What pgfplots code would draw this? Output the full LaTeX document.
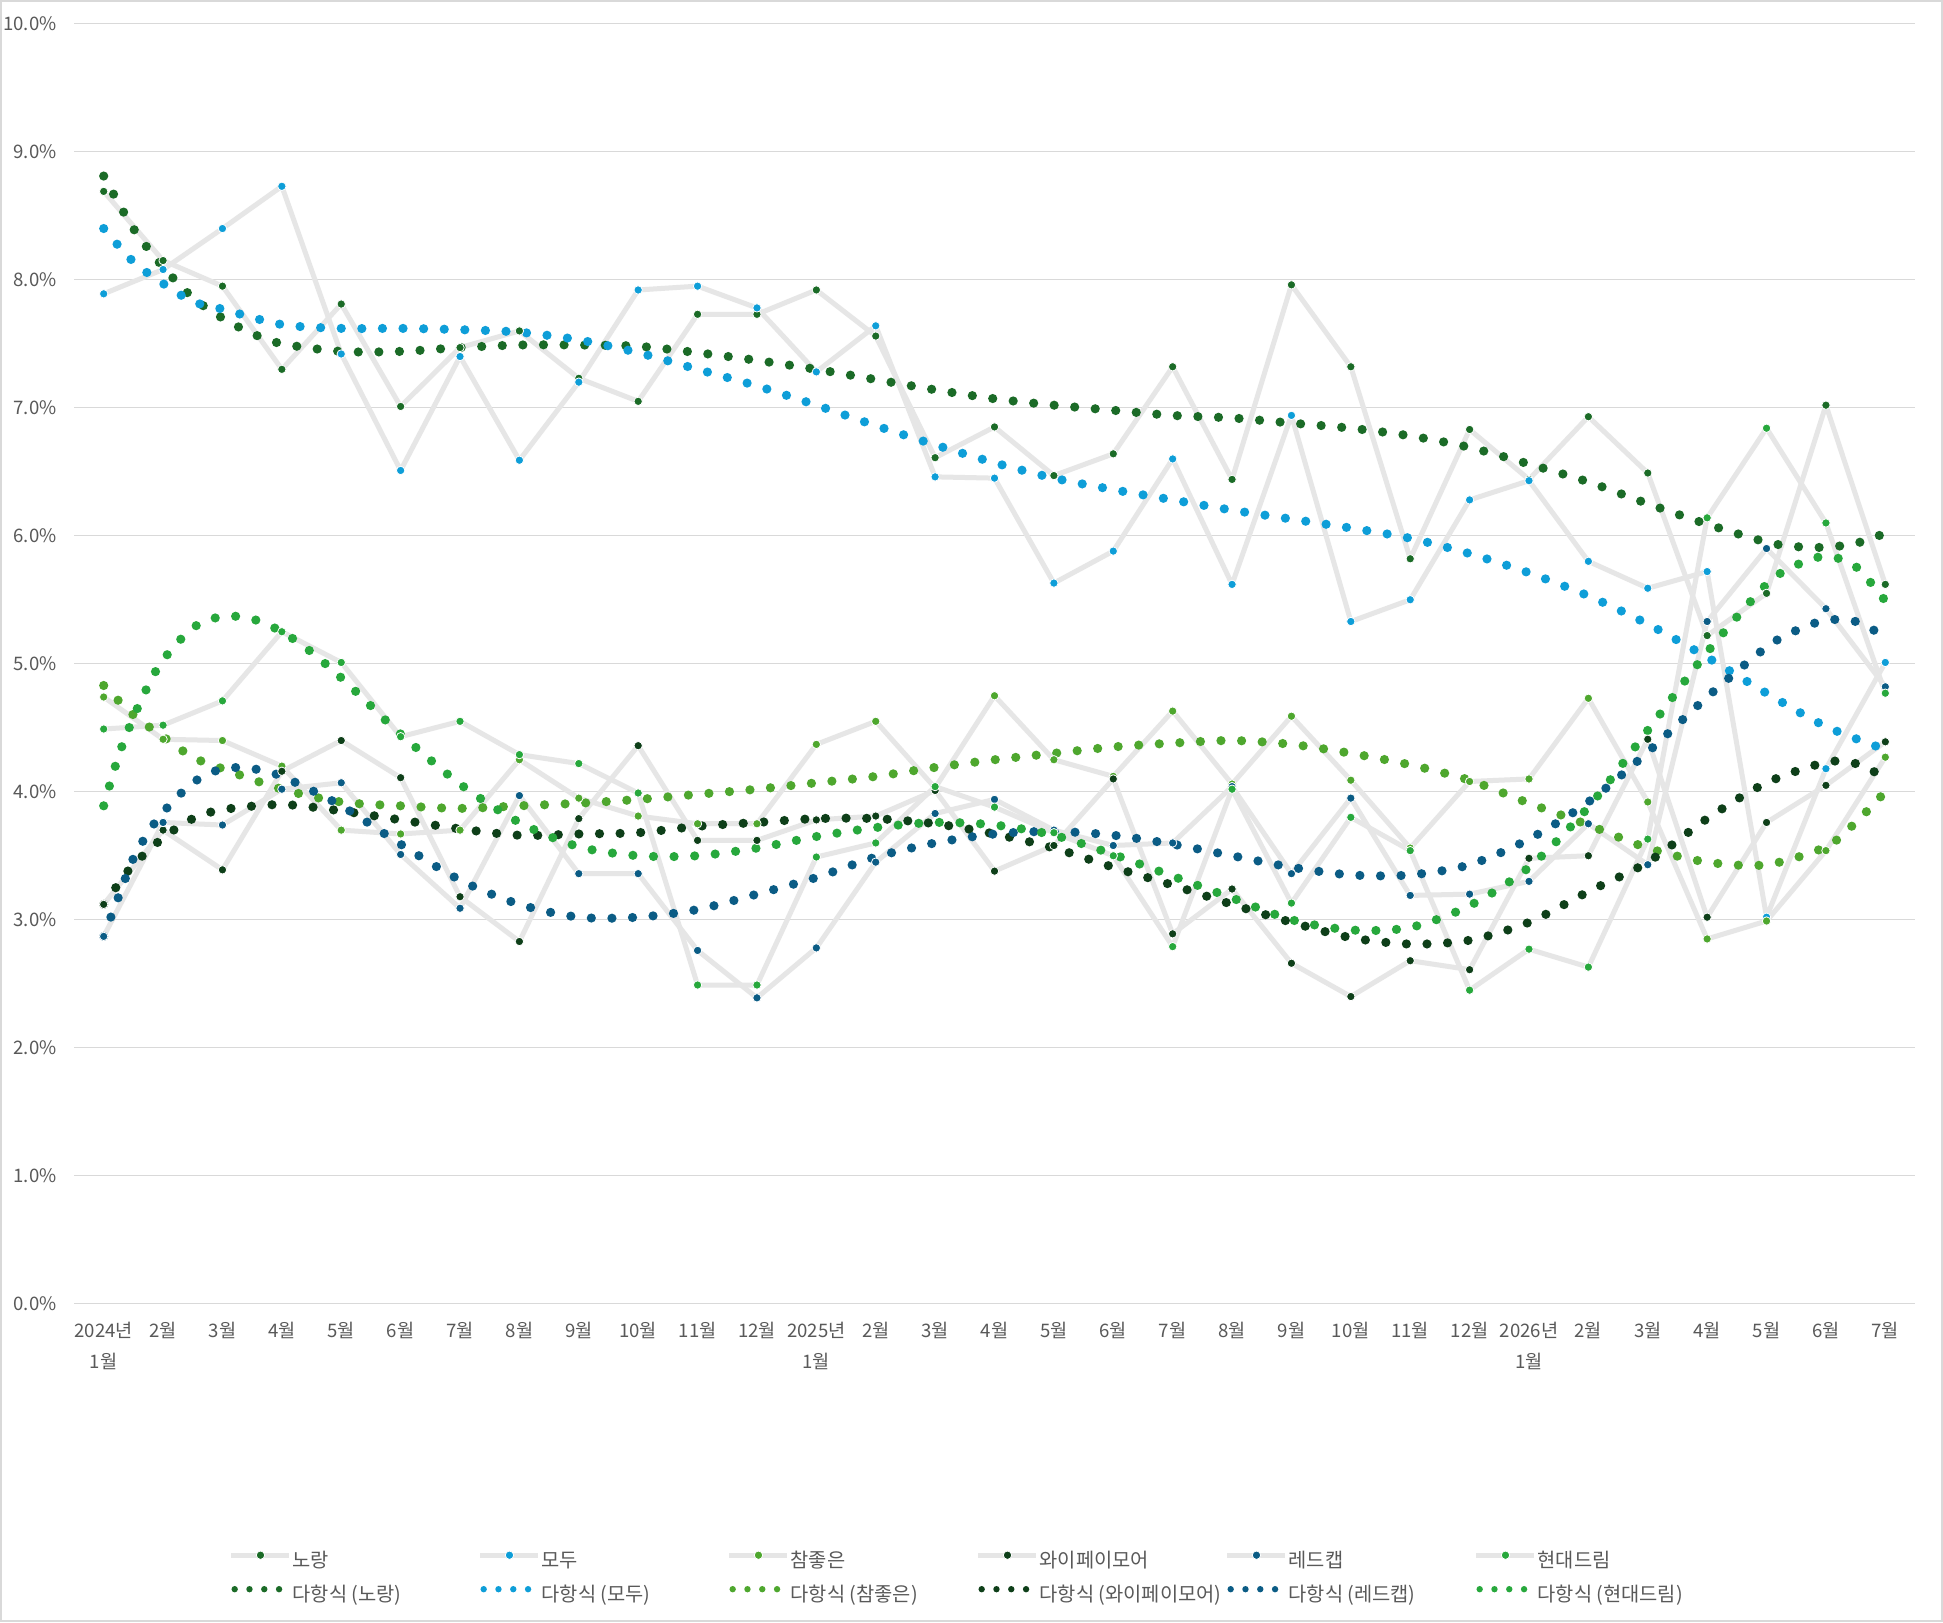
\documentclass[border=0pt]{standalone}
\usepackage{fontspec}
\setmainfont{Noto Sans CJK KR}
\usepackage{pgfplots}
\usepackage{pgfplotstable}
\pgfplotsset{compat=1.18}
\definecolor{cN}{HTML}{1B6B27}
\definecolor{cM}{HTML}{0E9ED8}
\definecolor{cC}{HTML}{4EA72E}
\definecolor{cW}{HTML}{0E3F19}
\definecolor{cR}{HTML}{0B5C85}
\definecolor{cH}{HTML}{27A83C}
\definecolor{lineGray}{HTML}{E6E6E6}
\definecolor{gridGray}{HTML}{D9D9D9}
\definecolor{txtGray}{HTML}{595959}
\definecolor{borderGray}{HTML}{D9D9D9}

\pgfplotstableread{
x N M C W R H
0 8.69 7.89 4.74 3.12 2.87 4.49
1 8.15 8.08 4.41 3.70 3.76 4.52
2 7.95 8.40 4.40 3.39 3.74 4.71
3 7.30 8.73 4.20 4.16 4.02 5.25
4 7.81 7.42 3.70 4.40 4.07 5.01
5 7.01 6.51 3.67 4.11 3.51 4.43
6 7.47 7.40 3.70 3.18 3.09 4.55
7 7.60 6.59 4.25 2.83 3.97 4.29
8 7.23 7.20 3.95 3.79 3.36 4.22
9 7.05 7.92 3.81 4.36 3.36 3.99
10 7.73 7.95 3.75 3.62 2.76 2.49
11 7.73 7.78 3.75 3.62 2.39 2.49
12 7.92 7.28 4.37 3.78 2.78 3.49
13 7.56 7.64 4.55 3.81 3.45 3.60
14 6.61 6.46 4.03 4.01 3.83 4.04
15 6.85 6.45 4.75 3.38 3.94 3.88
16 6.47 5.63 4.25 3.58 3.70 3.68
17 6.64 5.88 4.12 4.10 3.58 3.50
18 7.32 6.60 4.63 2.89 3.60 2.79
19 6.44 5.62 4.06 3.24 4.04 4.02
20 7.96 6.94 4.59 2.66 3.36 3.13
21 7.32 5.33 4.09 2.40 3.95 3.80
22 5.82 5.50 3.56 2.68 3.19 3.54
23 6.83 6.28 4.08 2.61 3.20 2.45
24 6.44 6.43 4.10 3.48 3.30 2.77
25 6.93 5.80 4.73 3.50 3.75 2.63
26 6.49 5.59 3.92 4.41 3.43 3.63
27 5.22 5.72 2.85 3.02 5.33 6.14
28 5.55 3.02 2.99 3.76 5.90 6.84
29 7.02 4.18 3.54 4.05 5.43 6.10
30 5.62 5.01 4.27 4.39 4.82 4.77
}\datatable

\pgfplotsset{
  datastyle/.style={lineGray, line width=2.5pt, line join=round, mark=*, mark size=2.1pt,
    mark options={solid, fill=#1, draw=white, line width=0.4pt},
    legend image code/.code={\draw[mark repeat=2, mark phase=2, ##1] plot coordinates {(0pt,3.5pt) (14.5pt,3.5pt) (29pt,3.5pt)};}},
  trendstyle/.style={#1, line width=4.6pt, line cap=round, dash pattern=on 0pt off 10.3pt, smooth, tension=0.5, no markers,
    legend image code/.code={\draw[##1, line width=3.2pt, line cap=round, dash pattern=on 0pt off 7.4pt] (1.6pt,3.5pt) -- (24pt,3.5pt);}},
}
\newcommand{\legtxt}[1]{\makebox[93pt][l]{\hspace{0.3pt}#1}}

\begin{document}
\begin{tikzpicture}
\useasboundingbox (0,0) rectangle (971.5pt,811pt);
\fill[white] (0,0) rectangle (971.5pt,811pt);
\draw[color=borderGray, line width=0.8pt] (0.4pt,0.4pt) rectangle (971.1pt,810.6pt);
\begin{axis}[
  at={(37pt,159.125pt)}, anchor=south west,
  scale only axis, width=920.5pt, height=640pt,
  xmin=-0.5, xmax=30.5, ymin=0, ymax=10,
  axis line style={draw=none},
  xtick={0,...,30},
  xticklabels={{2024년\\1월},2월,3월,4월,5월,6월,7월,8월,9월,10월,11월,12월,{2025년\\1월},2월,3월,4월,5월,6월,7월,8월,9월,10월,11월,12월,{2026년\\1월},2월,3월,4월,5월,6월,7월},
  ytick={0,...,10},
  yticklabels={0.0\%,1.0\%,2.0\%,3.0\%,4.0\%,5.0\%,6.0\%,7.0\%,8.0\%,9.0\%,10.0\%},
  tick style={draw=none},
  ymajorgrids, grid style={gridGray, line width=0.75pt},
  ticklabel style={font=\fontsize{9.3}{15.5}\selectfont, text=txtGray},
  xticklabel style={anchor=north, inner sep=0pt, yshift=-9pt, align=center},
  yticklabel style={anchor=east, inner sep=0pt, xshift=-8.5pt},
  legend columns=6,
  legend cell align=left,
  legend style={at={(0.08419,-0.19316)}, anchor=north west, draw=none, fill=none,
    inner sep=0pt, outer sep=0pt, font=\fontsize{9.9}{11}\selectfont, text=txtGray,
    /tikz/column sep=0pt, /tikz/row sep=7.4pt,
    nodes={inner sep=0pt, text height=7pt, text depth=2pt}},
]
\addplot[datastyle=cN] table[x=x, y=N]{\datatable};
\addlegendentry{\legtxt{노랑}}
\addplot[datastyle=cM] table[x=x, y=M]{\datatable};
\addlegendentry{\legtxt{모두}}
\addplot[datastyle=cC] table[x=x, y=C]{\datatable};
\addlegendentry{\legtxt{참좋은}}
\addplot[datastyle=cW] table[x=x, y=W]{\datatable};
\addlegendentry{\legtxt{와이페이모어}}
\addplot[datastyle=cR] table[x=x, y=R]{\datatable};
\addlegendentry{\legtxt{레드캡}}
\addplot[datastyle=cH] table[x=x, y=H]{\datatable};
\addlegendentry{\legtxt{현대드림}}

\addplot[trendstyle=cN] coordinates {(0,8.81) (0.5,8.40) (1,8.10) (1.5,7.86) (2,7.70) (2.5,7.58) (3,7.50) (4,7.44) (5,7.44) (6,7.47) (7,7.49) (8,7.49) (9,7.48) (10,7.43) (11,7.37) (12,7.30) (13,7.22) (14,7.14) (15,7.07) (16,7.02) (17,6.98) (18,6.94) (19,6.92) (20,6.88) (21,6.84) (22,6.78) (23,6.69) (24,6.56) (25,6.42) (26,6.25) (27,6.09) (28,5.95) (28.5,5.915) (29,5.91) (29.5,5.94) (30,6.02)};
\addlegendentry{\legtxt{다항식 (노랑)}}
\addplot[trendstyle=cM] coordinates {(0,8.40) (0.5,8.14) (1,7.97) (1.5,7.83) (2,7.77) (3,7.65) (4,7.62) (5,7.62) (6,7.61) (7,7.59) (8,7.53) (9,7.43) (10,7.30) (11,7.17) (12,7.02) (13,6.86) (14,6.71) (15,6.57) (16,6.45) (17,6.36) (18,6.28) (19,6.20) (20,6.13) (21,6.06) (22,5.98) (23,5.86) (24,5.71) (25,5.53) (26,5.31) (27,5.05) (28,4.77) (29,4.51) (30,4.33)};
\addlegendentry{\legtxt{다항식 (모두)}}
\addplot[trendstyle=cC] coordinates {(0,4.83) (0.5,4.60) (1,4.43) (1.5,4.27) (2,4.18) (3,4.02) (4,3.92) (5,3.89) (6,3.87) (7,3.89) (8,3.91) (9,3.94) (10,3.98) (11,4.02) (12,4.07) (13,4.12) (14,4.19) (15,4.25) (16,4.30) (17,4.35) (18,4.38) (19,4.40) (20,4.37) (21,4.30) (22,4.21) (23,4.09) (24,3.91) (25,3.74) (26,3.56) (27,3.45) (28,3.43) (29,3.57) (29.5,3.76) (30,4.00)};
\addlegendentry{\legtxt{다항식 (참좋은)}}
\addplot[trendstyle=cW] coordinates {(0,3.12) (0.25,3.28) (0.5,3.43) (1,3.64) (1.5,3.79) (2,3.86) (3,3.90) (4,3.85) (5,3.78) (6,3.71) (7,3.66) (8,3.67) (9,3.68) (10,3.73) (11,3.76) (12,3.79) (13,3.79) (14,3.75) (15,3.67) (16,3.56) (17,3.41) (18,3.27) (19,3.12) (20,2.98) (21,2.86) (22,2.81) (23,2.84) (24,2.98) (25,3.22) (26,3.45) (27,3.79) (28,4.07) (29,4.23) (29.5,4.22) (30,4.11)};
\addlegendentry{\legtxt{다항식 (와이페이모어)}}
\addplot[trendstyle=cR] coordinates {(0,2.87) (0.25,3.18) (0.5,3.48) (0.75,3.68) (1,3.84) (1.5,4.07) (2,4.18) (2.5,4.18) (3,4.12) (4,3.89) (5,3.59) (6,3.31) (7,3.12) (8,3.02) (9,3.02) (10,3.08) (11,3.20) (12,3.33) (13,3.49) (14,3.60) (15,3.67) (16,3.69) (17,3.66) (18,3.59) (19,3.50) (20,3.41) (21,3.35) (22,3.35) (23,3.43) (24,3.63) (25,3.92) (26,4.31) (27,4.74) (28,5.13) (28.5,5.26) (29,5.34) (29.5,5.33) (30,5.21)};
\addlegendentry{\legtxt{다항식 (레드캡)}}
\addplot[trendstyle=cH] coordinates {(0,3.89) (0.25,4.28) (0.5,4.58) (0.75,4.83) (1,5.03) (1.5,5.28) (2,5.37) (2.5,5.35) (3,5.25) (3.5,5.09) (4,4.89) (4.5,4.67) (5,4.45) (6,4.06) (7,3.76) (8,3.57) (9,3.50) (10,3.50) (11,3.56) (12,3.65) (13,3.72) (14,3.76) (15,3.74) (16,3.66) (17,3.51) (18,3.34) (19,3.17) (20,3.00) (21,2.92) (22,2.94) (23,3.11) (24,3.41) (25,3.88) (26,4.48) (27,5.09) (28,5.62) (28.5,5.77) (29,5.84) (29.5,5.76) (30,5.49)};
\addlegendentry{\legtxt{다항식 (현대드림)}}
\end{axis}
\end{tikzpicture}
\end{document}
